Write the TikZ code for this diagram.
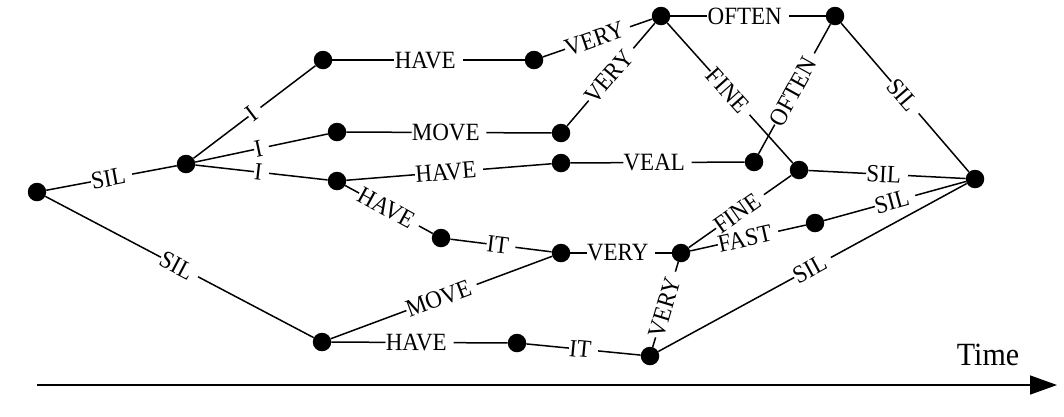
\documentclass[tikz,border=0pt]{standalone}
\usepackage{fontspec}
\usepackage{graphicx}
\setmainfont{Liberation Serif}
\usetikzlibrary{arrows.meta}
\newcommand\wlab[1]{\scalebox{1}[1.08]{#1}\kern6.5pt}
\begin{document}
\begin{tikzpicture}[x=1pt,y=-1pt,
  dot/.style={circle,fill=black,inner sep=0pt,minimum size=18.5pt},
  conn/.style={line width=1.5pt},
  lab/.style={midway,sloped,fill=white,inner xsep=0.3pt,inner ysep=1.5pt,font=\fontsize{23}{24}\selectfont}]
\useasboundingbox (0,0) rectangle (1064,416);
\node[dot] (A) at (37,192) {};
\node[dot] (B) at (186,164) {};
\node[dot] (C) at (323,60) {};
\node[dot] (D) at (337,132) {};
\node[dot] (E) at (337,181) {};
\node[dot] (F) at (534,60) {};
\node[dot] (G) at (561,133) {};
\node[dot] (H) at (561,163) {};
\node[dot] (I) at (661,16) {};
\node[dot] (J) at (835,16) {};
\node[dot] (K) at (754,162) {};
\node[dot] (L) at (799,170) {};
\node[dot] (M) at (975,179) {};
\node[dot] (N) at (441,238) {};
\node[dot] (O) at (561,253) {};
\node[dot] (P) at (681,253) {};
\node[dot] (Q) at (815,223) {};
\node[dot] (R) at (322,342) {};
\node[dot] (S) at (517,343) {};
\node[dot] (T) at (650,356) {};
\draw[conn] (A) -- node[lab]{\wlab{SIL}} (B);
\draw[conn] (A) -- node[lab]{\wlab{SIL}} (R);
\draw[conn] (B) -- node[lab]{\wlab{I}} (C);
\draw[conn] (B) -- node[lab]{\wlab{I}} (D);
\draw[conn] (B) -- node[lab]{\wlab{I}} (E);
\draw[conn] (C) -- node[lab]{\wlab{HAVE}} (F);
\draw[conn] (D) -- node[lab]{\wlab{MOVE}} (G);
\draw[conn] (E) -- node[lab]{\wlab{HAVE}} (H);
\draw[conn] (E) -- node[lab]{\wlab{HAVE}} (N);
\draw[conn] (F) -- node[lab]{\wlab{VERY}} (I);
\draw[conn] (G) -- node[lab]{\wlab{VERY}} (I);
\draw[conn] (I) -- node[lab]{\wlab{OFTEN}} (J);
\draw[conn] (I) -- node[lab]{\wlab{FINE}} (L);
\draw[conn] (H) -- node[lab]{\wlab{VEAL}} (K);
\draw[conn] (K) -- node[lab]{\wlab{OFTEN}} (J);
\draw[conn] (J) -- node[lab]{\wlab{SIL}} (M);
\draw[conn] (L) -- node[lab]{\wlab{SIL}} (M);
\draw[conn] (N) -- node[lab]{\wlab{IT}} (O);
\draw[conn] (R) -- node[lab]{\wlab{MOVE}} (O);
\draw[conn] (R) -- node[lab]{\wlab{HAVE}} (S);
\draw[conn] (S) -- node[lab]{\wlab{IT}} (T);
\draw[conn] (O) -- node[lab]{\wlab{VERY}} (P);
\draw[conn] (P) -- node[lab]{\wlab{FINE}} (L);
\draw[conn] (P) -- node[lab]{\wlab{FAST}} (Q);
\draw[conn] (Q) -- node[lab]{\wlab{SIL}} (M);
\draw[conn] (T) -- node[lab]{\wlab{VERY}} (P);
\draw[conn] (T) -- node[lab]{\wlab{SIL}} (M);
\coordinate (t0) at (37,385);
\coordinate (t1) at (1057,385);
\draw[conn,-{Triangle[length=27pt,width=19pt]}] (t0) -- (t1);
\node[font=\fontsize{30}{32}\selectfont,inner sep=0pt,anchor=base] (time) at (988,365) {\scalebox{1}[1.08]{Time}};
\end{tikzpicture}
\end{document}
